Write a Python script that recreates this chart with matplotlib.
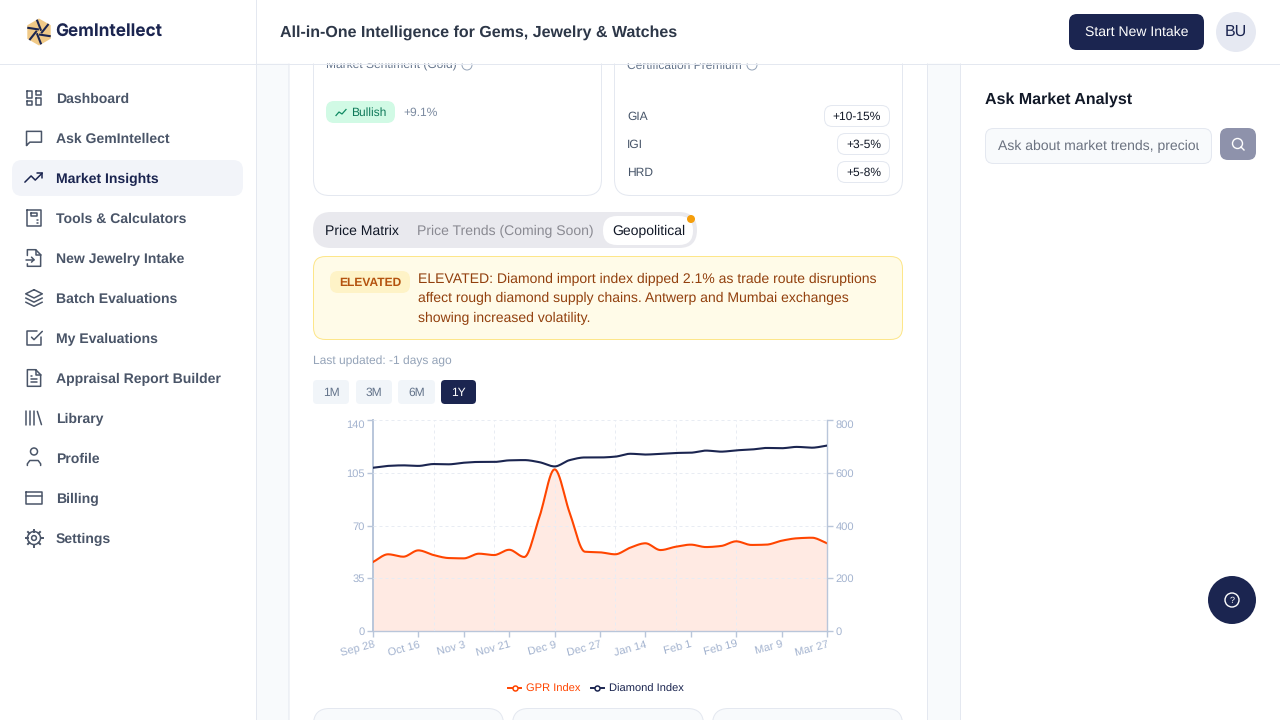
#!/usr/bin/env python3
"""GemIntellect market insights screen: geopolitical index chart plus page chrome."""

import numpy as np
import matplotlib

matplotlib.use("Agg")
import matplotlib.pyplot as plt
from matplotlib.lines import Line2D
from matplotlib.patches import Circle, FancyBboxPatch, Polygon, Rectangle

plt.rcParams["font.family"] = ["Liberation Sans", "DejaVu Sans"]
plt.rcParams["text.hinting"] = "no_hinting"

# --- chart data ---
days = [0, 6, 12, 18, 24, 30, 36, 42, 48, 54, 60, 66, 72, 78, 84, 90,
        96, 102, 108, 114, 120, 126, 132, 138, 144, 150, 156, 162, 168, 174, 180]
gpr_index = [45.8, 50.9, 49.3, 53.5, 50.4, 48.4, 48.2, 51.3, 50.4, 53.9, 49.1,
             75.8, 107.3, 78.3, 52.6, 52.2, 50.9, 55.3, 58.2, 53.7, 55.9,
             57.3, 55.7, 56.4, 59.5, 57.1, 57.3, 59.9, 61.5, 61.9, 58.2]
diamond_index = [619, 626, 628, 626, 633, 632, 638, 641, 641, 647, 648,
                 640, 624, 648, 658, 658, 661, 672, 669, 672, 675,
                 676, 684, 680, 685, 688, 694, 693, 698, 695, 703]
tick_days = [0, 18, 36, 54, 72, 90, 108, 126, 144, 162, 180]
tick_labels = ["Sep 28", "Oct 16", "Nov 3", "Nov 21", "Dec 9", "Dec 27",
               "Jan 14", "Feb 1", "Feb 19", "Mar 9", "Mar 27"]
grid_days = [24, 48, 72, 96, 120, 144]
left_ticks = [0, 35, 70, 105, 140]
right_ticks = [0, 200, 400, 600, 800]

# --- page text ---
nav_items = ["Dashboard", "Ask GemIntellect", "Market Insights", "Tools & Calculators",
             "New Jewelry Intake", "Batch Evaluations", "My Evaluations",
             "Appraisal Report Builder", "Library", "Profile", "Billing", "Settings"]
cert_names = ["GIA", "IGI", "HRD"]
cert_values = ["+10-15%", "+3-5%", "+5-8%"]
alert_lines = ["ELEVATED: Diamond import index dipped 2.1% as trade route disruptions",
               "affect rough diamond supply chains. Antwerp and Mumbai exchanges",
               "showing increased volatility."]
ranges = ["1M", "3M", "6M", "1Y"]

NAVY, SLATE, BORDER = "#1b2550", "#4a5568", "#e4e8f0"
AXIS, TICK, GRID = "#b9c6da", "#a3b3cf", "#e8ecf3"
ORANGE = "#ff4500"
PX = 0.72  # one css pixel in points at dpi 100


def monotone(x, y, per_seg=12):
    """Monotone cubic through the knots, same shape as a d3 monotoneX curve."""
    x, y = np.asarray(x, float), np.asarray(y, float)
    h = np.diff(x)
    s = np.diff(y) / h
    m = np.zeros_like(y)
    m[1:-1] = np.where(s[:-1] * s[1:] > 0, 2 * s[:-1] * s[1:] / (s[:-1] + s[1:]), 0)
    m[0], m[-1] = s[0], s[-1]
    xs, ys = [], []
    for i in range(len(h)):
        t = np.linspace(0, 1, per_seg, endpoint=False)
        xs.append(x[i] + t * h[i])
        ys.append((2 * t**3 - 3 * t**2 + 1) * y[i] + (t**3 - 2 * t**2 + t) * h[i] * m[i]
                  + (-2 * t**3 + 3 * t**2) * y[i + 1] + (t**3 - t**2) * h[i] * m[i + 1])
    return np.append(np.concatenate(xs), x[-1]), np.append(np.concatenate(ys), y[-1])


fig = plt.figure(figsize=(12.8, 7.2), dpi=100, facecolor="#f8fafc")
bg = fig.add_axes([0, 0, 1, 1])
bg.set_xlim(0, 1280)
bg.set_ylim(720, 0)
bg.axis("off")


def box(x0, y0, x1, y1, r=0, fc="white", ec="none", lw=PX, z=2):
    p = FancyBboxPatch((x0, y0), x1 - x0, y1 - y0, boxstyle=f"round,pad=0,rounding_size={r}",
                       fc=fc, ec=ec, lw=lw, zorder=z)
    bg.add_patch(p)
    return p


def txt(x, y, s, px=14, color=SLATE, weight="normal", ha="left", z=5, **kw):
    nudge = 1.2 if px == 14 else 0.6
    return bg.text(x, y + nudge, s, fontsize=px * PX, color=color, fontweight=weight, ha=ha,
                   va="center", zorder=z, **kw)


def icon(cy, strokes, color=SLATE, cx=34, z=5):
    # strokes are in a 24 unit icon grid, drawn about 20px wide
    for pts in strokes:
        a = np.array(pts, float)
        bg.plot(cx + (a[:, 0] - 12) * 0.83, cy + (a[:, 1] - 12) * 0.83, color=color, lw=1.1,
                solid_capstyle="round", solid_joinstyle="round", zorder=z)


def rect_pts(x0, y0, x1, y1):
    return [(x0, y0), (x1, y0), (x1, y1), (x0, y1), (x0, y0)]


# panels
box(0, 0, 256, 720, fc="white", z=1)
bg.plot([255.5, 255.5], [0, 720], color=BORDER, lw=PX, zorder=2)
box(289, -1, 927.5, 721, fc="white", ec=BORDER, z=1)
box(960.5, -1, 1281, 721, fc="white", ec=BORDER, z=1)

# top cards, cut off by the header
box(313.5, 30, 601.5, 195.5, r=16, ec=BORDER)
box(614.5, 30, 902.5, 195.5, r=16, ec=BORDER)
txt(326, 65, "Market Sentiment (Gold)", 12, "#64748b")
txt(627, 65, "Certification Premium", 12, "#64748b")
for cx in (467, 752):
    bg.add_patch(Circle((cx, 65), 5, fc="none", ec="#94a3b8", lw=0.7, zorder=5))
box(326, 101, 395, 123, r=8, fc="#d1fae5")
bg.plot([336, 339, 342, 346], [115.5, 112, 114, 109.5], color="#0f8a63", lw=0.9, zorder=5)
txt(351, 112, "Bullish", 12, "#0f7a5a")
txt(403, 112, "+9.1%", 12, "#7b8aa0")
for i, (name, value) in enumerate(zip(cert_names, cert_values)):
    y = 116 + 28 * i
    txt(627, y, name, 12, "#475569")
    left = 824.5 if i == 0 else 837.5
    box(left, y - 10.5, 889.5, y + 10.5, r=8, ec=BORDER)
    txt(881, y, value, 12, "#111827", ha="right")

# tabs
box(313, 212, 697, 248, r=18, fc="#e9e9ee")
box(603, 216, 693, 245, r=14, fc="white", z=3)
txt(325, 230, "Price Matrix", 14, "#111827")
txt(417, 230, "Price Trends (Coming Soon)", 14, "#8a8a92")
txt(612, 230, "Geopolitical", 14, "#111827")
bg.add_patch(Circle((691, 219), 4, fc="#f59e0b", ec="none", zorder=5))

# alert
box(313.5, 256.5, 902.5, 339.5, r=12, fc="#fffbe8", ec="#fde68a")
box(330, 271, 410, 293, r=8, fc="#fef3c7", ec="none", z=3)
txt(370, 282, "ELEVATED", 12, "#b4530f", "bold", ha="center")
for i, line in enumerate(alert_lines):
    txt(418, 278 + 19.5 * i, line, 14, "#92400e")

txt(313, 360.5, "Last updated: -1 days ago", 12, "#94a3b8")
for (x0, x1), label in zip([(313, 349), (356, 392), (398, 435), (441, 476)], ranges):
    active = label == "1Y"
    box(x0, 380, x1, 404, r=4, fc=NAVY if active else "#f1f5f9", z=3)
    txt((x0 + x1) / 2, 392, label, 12, "white" if active else "#64748b", ha="center")

# cards under the chart
for x0, x1 in [(313.5, 503.5), (512.5, 703.5), (712.5, 902.5)]:
    box(x0, 708.5, x1, 760, r=16, fc="#f8fafc", ec=BORDER)

# header
box(0, 0, 1280, 63.5, fc="white", z=6)
bg.plot([0, 1280], [63.5, 63.5], color=BORDER, lw=PX, zorder=7)
bg.plot([255.5, 255.5], [0, 63], color=BORDER, lw=PX, zorder=7)
txt(280, 31.5, "All-in-One Intelligence for Gems, Jewelry & Watches", 16, "#2d3748", "bold", z=8)
box(1069, 14, 1204, 50, r=8, fc=NAVY, z=7)
txt(1136.5, 31.3, "Start New Intake", 14, "white", ha="center", z=8)
bg.add_patch(Circle((1236, 32), 20, fc="#e6e9f2", ec="none", zorder=7))
txt(1236, 31, "BU", 16, NAVY, ha="center", z=8)

# logo
angles = np.deg2rad(np.arange(30, 390, 60))
bg.add_patch(Polygon(np.c_[39 + 13.5 * np.cos(angles), 32 + 13.5 * np.sin(angles)],
                     fc="#f0c987", ec="none", zorder=8))
for a in np.deg2rad(np.arange(20, 380, 60)):
    bg.plot([39 + 2.5 * np.cos(a + 1.2), 39 + 12.5 * np.cos(a)],
            [32 + 2.5 * np.sin(a + 1.2), 32 + 12.5 * np.sin(a)],
            color=NAVY, lw=1.5, solid_capstyle="butt", zorder=9)
bg.text(55, 32.5, "GemIntellect", fontsize=12.4, family=["Inter", "DejaVu Sans"], fontweight="bold",
        color=NAVY, va="center", zorder=9)

# sidebar
box(12, 160, 243, 196, r=10, fc="#f2f4f9", z=3)
nav_icons = [
    [rect_pts(3, 3, 10, 12), rect_pts(14, 3, 21, 8), rect_pts(14, 12, 21, 21), rect_pts(3, 16, 10, 21)],
    [[(3, 21), (3, 4), (21, 4), (21, 17), (7, 17), (3, 21)]],
    [[(1, 17), (8.5, 9.5), (13.5, 14.5), (22, 6)], [(16, 6), (22, 6), (22, 12)]],
    [rect_pts(4, 2, 20, 22), rect_pts(8, 6, 16, 10), [(8, 14), (8.5, 14)], [(12, 14), (12.5, 14)],
     [(16, 14), (16.5, 14)], [(8, 18), (8.5, 18)], [(12, 18), (12.5, 18)], [(16, 18), (16.5, 18)]],
    [[(4, 9), (4, 2), (14, 2), (20, 8), (20, 22), (4, 22), (4, 19)], [(14, 2), (14, 8), (20, 8)],
     [(2, 14), (12, 14)], [(9, 11), (12, 14), (9, 17)]],
    [[(12, 2), (22, 7), (12, 12), (2, 7), (12, 2)], [(2, 12), (12, 17), (22, 12)], [(2, 17), (12, 22), (22, 17)]],
    [[(21, 11), (21, 21), (3, 21), (3, 3), (16, 3)], [(9, 11), (12, 14), (22, 4)]],
    [[(14, 2), (4, 2), (4, 22), (20, 22), (20, 8), (14, 2)], [(14, 2), (14, 8), (20, 8)],
     [(8, 13), (16, 13)], [(8, 17), (16, 17)], [(8, 9), (10, 9)]],
    [[(2, 4), (2, 20)], [(7, 4), (7, 20)], [(12, 4), (12, 20)], [(16, 4), (21, 20)]],
    [[(4, 21), (4, 19), (7, 15), (17, 15), (20, 19), (20, 21)]],
    [rect_pts(2, 5, 22, 19), [(2, 10), (22, 10)]],
    [],
]
for i, (label, strokes) in enumerate(zip(nav_items, nav_icons)):
    y = 98 + 40 * i
    active = label == "Market Insights"
    txt(56, y, label, 14, NAVY if active else SLATE, "bold")
    icon(y, strokes, NAVY if active else SLATE)
bg.add_patch(Circle((34, 451.5), 3.5, fc="none", ec=SLATE, lw=1.1, zorder=5))
bg.add_patch(Circle((34, 538), 2.4, fc="none", ec=SLATE, lw=1.1, zorder=5))
bg.add_patch(Circle((34, 538), 6.5, fc="none", ec=SLATE, lw=1.1, zorder=5))
for a in np.deg2rad(np.arange(0, 360, 45)):
    bg.plot([34 + 6.5 * np.cos(a), 34 + 8.5 * np.cos(a)], [538 + 6.5 * np.sin(a), 538 + 8.5 * np.sin(a)],
            color=SLATE, lw=1.4, zorder=5)

# right panel
txt(985, 99, "Ask Market Analyst", 16, "#111827", "bold")
box(985.5, 128.5, 1211.5, 163.5, r=8, fc="#f8fafc", ec=BORDER)
hint = txt(998, 145.4, "Ask about market trends, precious metals", 14, "#6b7280")
hint.set_clip_on(True)
hint.set_clip_path(Rectangle((998, 128), 201, 36, transform=bg.transData))
box(1220, 128, 1256, 160, r=8, fc="#8e92ab")
bg.add_patch(Circle((1237.5, 143.5), 5, fc="none", ec="white", lw=1, zorder=5))
bg.plot([1241, 1244], [147, 150], color="white", lw=1, zorder=5)
bg.add_patch(Circle((1232, 600), 24, fc=NAVY, ec="none", zorder=5))
bg.add_patch(Circle((1232, 600), 7, fc="none", ec="white", lw=1, zorder=6))
txt(1232, 600, "?", 9, "white", ha="center", z=6)

# --- the chart ---
ax = fig.add_axes([373 / 1280, 89 / 720, 454 / 1280, 211 / 720])
ax.patch.set_alpha(0)
ax.set_xlim(days[0], days[-1])
ax.set_ylim(0, 140)
ax2 = ax.twinx()
ax2.set_ylim(0, 800)
ax2.patch.set_alpha(0)

for d in grid_days:
    ax.axvline(d, color=GRID, lw=PX, dashes=(3, 3), zorder=3)
for v in left_ticks[1:]:
    ax.axhline(v, color=GRID, lw=PX, dashes=(3, 3), zorder=3)

gx, gy = monotone(days, gpr_index)
ax.fill_between(gx, gy, 0, color=ORANGE, alpha=0.11, lw=0, zorder=2)
ax.plot(gx, gy, color=ORANGE, lw=1.5, zorder=4)
dx, dy = monotone(days, diamond_index)
ax2.plot(dx, dy, color=NAVY, lw=1.5, zorder=4)

ax.set_xticks(tick_days)
ax.set_xticklabels(tick_labels, rotation=15, ha="right", rotation_mode="anchor")
ax.set_yticks(left_ticks)
ax2.set_yticks(right_ticks)
for a in (ax, ax2):
    a.tick_params(colors=AXIS, labelcolor=TICK, labelsize=8, length=4.5, width=1, pad=1.5)
    a.spines["top"].set_visible(False)
    for side in ("left", "right", "bottom"):
        a.spines[side].set_color(AXIS)
        a.spines[side].set_linewidth(1.0)
    # the library pushes the top label inside the plot, below its tick
    a.get_yticklabels()[-1].set_verticalalignment("top")
ax.spines["left"].set_linewidth(1.4)
ax.spines["right"].set_visible(False)
ax2.spines["left"].set_visible(False)
ax2.spines["bottom"].set_visible(False)

handles = [
    Line2D([], [], color=ORANGE, lw=1.4, marker="o", ms=3.6, mfc="white", mew=1.1, label="GPR Index"),
    Line2D([], [], color=NAVY, lw=1.4, marker="o", ms=3.6, mfc="white", mew=1.1, label="Diamond Index"),
]
fig.legend(handles=handles, loc="center", bbox_to_anchor=(596 / 1280, 1 - 689 / 720), ncol=2,
           frameon=False, fontsize=8, labelcolor="linecolor", handlelength=1.17, handletextpad=0.45,
           columnspacing=0.9, borderpad=0)

fig.savefig("out.png", dpi=100, facecolor=fig.get_facecolor())
